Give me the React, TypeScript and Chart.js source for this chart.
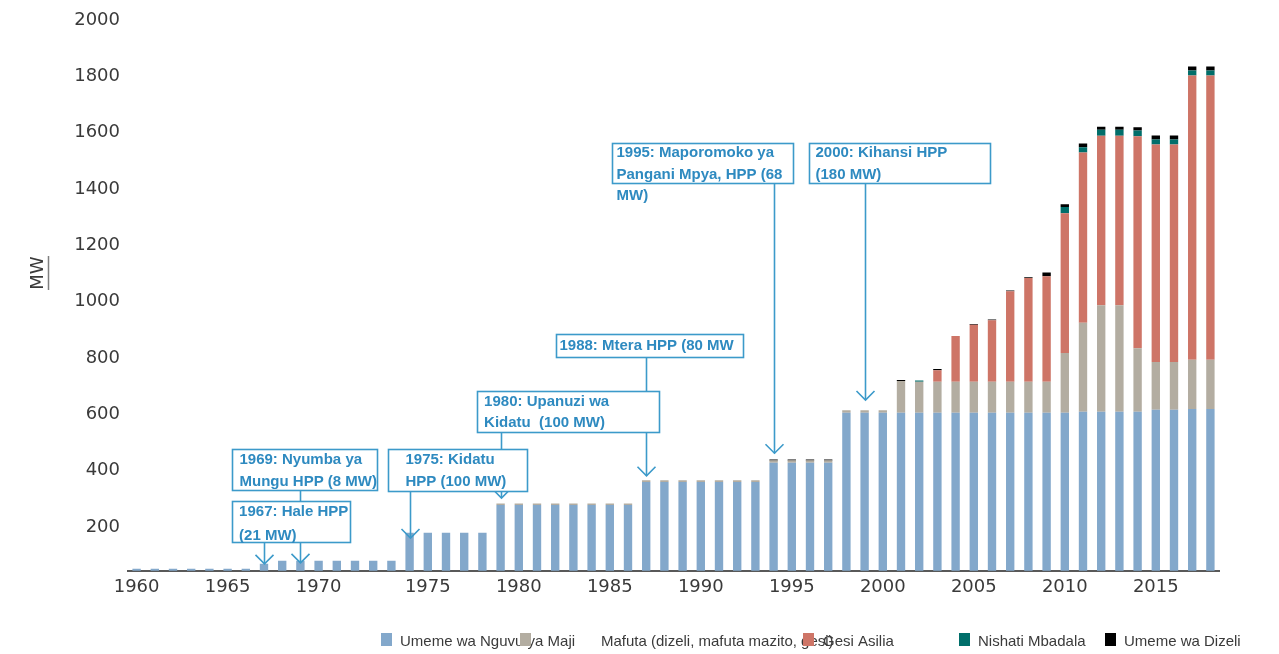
import React, { useEffect, useRef } from "react";
import { Chart, registerables } from "chart.js";

Chart.register(...registerables);

// Categories (the source axis carries one extra slot before 1975)
const categories = [
  "1960", "1961", "1962", "1963", "1964", "1965", "1966", "1967", "1968", "1969",
  "1970", "1971", "1972", "1973", "1974", "1974", "1975", "1976", "1977", "1978",
  "1979", "1980", "1981", "1982", "1983", "1984", "1985", "1986", "1987", "1988",
  "1989", "1990", "1991", "1992", "1993", "1994", "1995", "1996", "1997", "1998",
  "1999", "2000", "2001", "2002", "2003", "2004", "2005", "2006", "2007", "2008",
  "2009", "2010", "2011", "2012", "2013", "2014", "2015", "2016", "2017", "2018",
];

const hydro = [
  52, 52, 52, 52, 52, 52, 52, 70, 80, 80,
  80, 80, 80, 80, 80, 180, 180, 180, 180, 180,
  278, 278, 278, 278, 278, 278, 278, 278, 360, 360,
  360, 360, 360, 360, 360, 428, 428, 428, 428, 606,
  606, 606, 606, 606, 606, 606, 606, 606, 606, 606,
  606, 606, 609, 609, 609, 609, 616, 616, 619, 619,
];

const oil = [
  0, 0, 0, 0, 0, 0, 0, 0, 0, 0,
  0, 0, 0, 0, 0, 0, 0, 0, 0, 0,
  6, 6, 6, 6, 6, 6, 6, 6, 6, 6,
  6, 6, 6, 6, 6, 8, 8, 8, 8, 9,
  9, 9, 112, 110, 110, 110, 110, 110, 110, 110,
  110, 212, 316, 378, 378, 226, 170, 170, 175, 175,
];

const gas = [
  0, 0, 0, 0, 0, 0, 0, 0, 0, 0,
  0, 0, 0, 0, 0, 0, 0, 0, 0, 0,
  0, 0, 0, 0, 0, 0, 0, 0, 0, 0,
  0, 0, 0, 0, 0, 0, 0, 0, 0, 0,
  0, 0, 0, 0, 41, 162, 202, 218, 321, 368,
  374, 496, 605, 602, 602, 752, 772, 772, 1009, 1009,
];

const renewables = [
  0, 0, 0, 0, 0, 0, 0, 0, 0, 0,
  0, 0, 0, 0, 0, 0, 0, 0, 0, 0,
  0, 0, 0, 0, 0, 0, 0, 0, 0, 0,
  0, 0, 0, 0, 0, 0, 0, 0, 0, 0,
  0, 0, 0, 4, 0, 0, 0, 0, 0, 0,
  0, 22, 18, 21, 21, 21, 18, 18, 18, 18,
];

const diesel = [
  0, 0, 0, 0, 0, 0, 0, 0, 0, 0,
  0, 0, 0, 0, 0, 0, 0, 0, 0, 0,
  0, 0, 0, 0, 0, 0, 0, 0, 0, 0,
  0, 0, 0, 0, 0, 4, 4, 4, 4, 0,
  0, 0, 4, 0, 4, 0, 3, 3, 3, 3,
  14, 10, 14, 11, 11, 11, 14, 14, 14, 14,
];

const seriesNames = [
  "Umeme wa Nguvu ya Maji",
  "Mafuta (dizeli, mafuta mazito, gesi)",
  "Gesi Asilia",
  "Nishati Mbadala",
  "Umeme wa Dizeli",
];
const seriesColors = ["#83A8CB", "#B3ADA1", "#CE7567", "#006E6A", "#000000"];

const yTicks = [200, 400, 600, 800, 1000, 1200, 1400, 1600, 1800, 2000];

// Annotation call-outs: target category index, arrow tip value (MW),
// box [left idx, right idx, top MW, bottom MW]
const annotations = [
  { lines: ["1969: Nyumba ya", "Mungu HPP (8 MW)"], index: 9, tip: 73, box: [5.23, 13.19, 476, 332], inset: 7, first: 10.7, gap: 21.7 },
  { lines: ["1967: Hale HPP", "(21 MW)"], index: 7, tip: 69, box: [5.23, 11.73, 292, 148], inset: 6.6, first: 10.7, gap: 24 },
  { lines: ["1980: Upanuzi wa", "Kidatu  (100 MW)"], index: 20, tip: 303, box: [18.69, 28.72, 682, 538], inset: 6.6, first: 10.7, gap: 21 },
  { lines: ["1975: Kidatu", "HPP (100 MW)"], index: 15, tip: 161, box: [13.83, 21.47, 476, 329], inset: 17, first: 10.7, gap: 21.7 },
  { lines: ["1988: Mtera HPP (80 MW"], index: 28, tip: 382, box: [23.04, 33.34, 887, 804], inset: 3, first: 11.7, gap: 21.7 },
  { lines: ["1995: Maporomoko ya", "Pangani Mpya, HPP (68", "MW)"], index: 35, tip: 462, box: [26.14, 36.08, 1564, 1423], inset: 4, first: 9.4, gap: 21.7 },
  { lines: ["2000: Kihansi HPP", "(180 MW)"], index: 40, tip: 651, box: [36.95, 46.89, 1564, 1423], inset: 6, first: 9.4, gap: 21.7 },
];

const ANN_LINE = "#3C9ACA";
const ANN_TEXT = "#2E8AC0";
const TEXT = "#3A3A3A";

const legendLayout = [
  { swatch: 381, text: 400 },
  { swatch: 520, text: 601 },
  { swatch: 803, text: 823 },
  { swatch: 959, text: 978 },
  { swatch: 1105, text: 1124 },
];

const overlay = {
  id: "overlay",
  afterDraw(chart: any) {
    const { ctx, scales } = chart;
    const xs = scales.x;
    const ys = scales.y;
    ctx.save();

    // Y axis title (underlined, rotated)
    ctx.save();
    ctx.translate(38, 273);
    ctx.rotate(-Math.PI / 2);
    ctx.font = "18px 'DejaVu Sans'";
    ctx.fillStyle = TEXT;
    ctx.textAlign = "center";
    ctx.textBaseline = "middle";
    ctx.fillText("MW", 0, 0);
    ctx.strokeStyle = "#7f7f7f";
    ctx.lineWidth = 1.5;
    ctx.beginPath();
    ctx.moveTo(-17, 10.5);
    ctx.lineTo(17, 10.5);
    ctx.stroke();
    ctx.restore();

    // connectors + arrow heads
    ctx.strokeStyle = ANN_LINE;
    ctx.lineWidth = 1.6;
    for (const a of annotations) {
      const ax = Math.round(xs.getPixelForValue(a.index)) + 0.5;
      const by = ys.getPixelForValue(a.box[3]);
      const ty = ys.getPixelForValue(a.tip);
      ctx.beginPath();
      ctx.moveTo(ax, by);
      ctx.lineTo(ax, ty);
      ctx.stroke();
      ctx.beginPath();
      ctx.moveTo(ax - 9, ty - 9);
      ctx.lineTo(ax, ty);
      ctx.lineTo(ax + 9, ty - 9);
      ctx.stroke();
    }

    // boxes + text
    for (const a of annotations) {
      const x0 = Math.round(xs.getPixelForValue(a.box[0])) + 0.5;
      const x1 = Math.round(xs.getPixelForValue(a.box[1])) + 0.5;
      const y0 = Math.round(ys.getPixelForValue(a.box[2])) + 0.5;
      const y1 = Math.round(ys.getPixelForValue(a.box[3])) + 0.5;
      ctx.fillStyle = "#ffffff";
      ctx.fillRect(x0, y0, x1 - x0, y1 - y0);
      ctx.strokeStyle = ANN_LINE;
      ctx.lineWidth = 1.6;
      ctx.strokeRect(x0, y0, x1 - x0, y1 - y0);
      ctx.fillStyle = ANN_TEXT;
      ctx.font = "bold 15px 'Liberation Sans', Arial, sans-serif";
      ctx.textAlign = "left";
      ctx.textBaseline = "middle";
      a.lines.forEach((ln, i) => {
        ctx.fillText(ln, x0 + a.inset, y0 + a.first + i * a.gap);
      });
    }

    // legend
    ctx.font = "15px 'Liberation Sans', Arial, sans-serif";
    ctx.textBaseline = "middle";
    ctx.textAlign = "left";
    seriesNames.forEach((name, i) => {
      const L = legendLayout[i];
      ctx.fillStyle = seriesColors[i];
      ctx.fillRect(L.swatch, 633, 11, 13);
      ctx.fillStyle = TEXT;
      ctx.fillText(name, L.text, 642);
    });

    ctx.restore();
  },
};

export default function App() {
  const ref = useRef<HTMLCanvasElement | null>(null);

  useEffect(() => {
    document.body.style.margin = "0";
    const canvas = ref.current;
    if (!canvas) return;
    const series = [hydro, oil, gas, renewables, diesel];
    const chart = new Chart(canvas, {
      type: "bar",
      data: {
        labels: categories,
        datasets: series.map((d, i) => ({
          label: seriesNames[i],
          data: d,
          backgroundColor: seriesColors[i],
          borderWidth: 0,
          barPercentage: 0.46,
          categoryPercentage: 1,
        })),
      },
      options: {
        responsive: false,
        animation: false,
        devicePixelRatio: 1,
        layout: { padding: { top: 20, right: 59.5, bottom: 43.3, left: 0 } },
        plugins: {
          legend: { display: false },
          tooltip: { enabled: false },
        },
        scales: {
          x: {
            stacked: true,
            grid: { display: false, drawTicks: false },
            border: { display: true, color: "#595959", width: 2 },
            ticks: {
              autoSkip: false,
              maxRotation: 0,
              minRotation: 0,
              padding: 6,
              color: TEXT,
              font: { family: "'DejaVu Sans'", size: 18 },
              callback: (_v: any, idx: number) => {
                const lab = categories[idx];
                const yr = parseInt(lab, 10);
                if (yr % 5 !== 0) return "";
                if (categories.indexOf(lab) !== idx) return "";
                return lab;
              },
            },
            afterFit: (scale: any) => {
              scale.height = 40;
            },
          },
          y: {
            stacked: true,
            min: 45,
            max: 2000,
            grid: { display: false, drawTicks: false },
            border: { display: false },
            afterBuildTicks: (scale: any) => {
              scale.ticks = yTicks.map((v) => ({ value: v }));
            },
            ticks: {
              padding: 7.5,
              color: TEXT,
              font: { family: "'DejaVu Sans'", size: 18 },
              callback: (v: any) => String(v),
            },
            afterFit: (scale: any) => {
              scale.width = 127.5;
            },
          },
        },
      },
      plugins: [overlay],
    });
    return () => chart.destroy();
  }, []);

  return (
    <div style={{ position: "relative", width: 1279, height: 654 }}>
      <canvas ref={ref} width={1279} height={654} style={{ display: "block", width: 1279, height: 654 }} />
    </div>
  );
}
